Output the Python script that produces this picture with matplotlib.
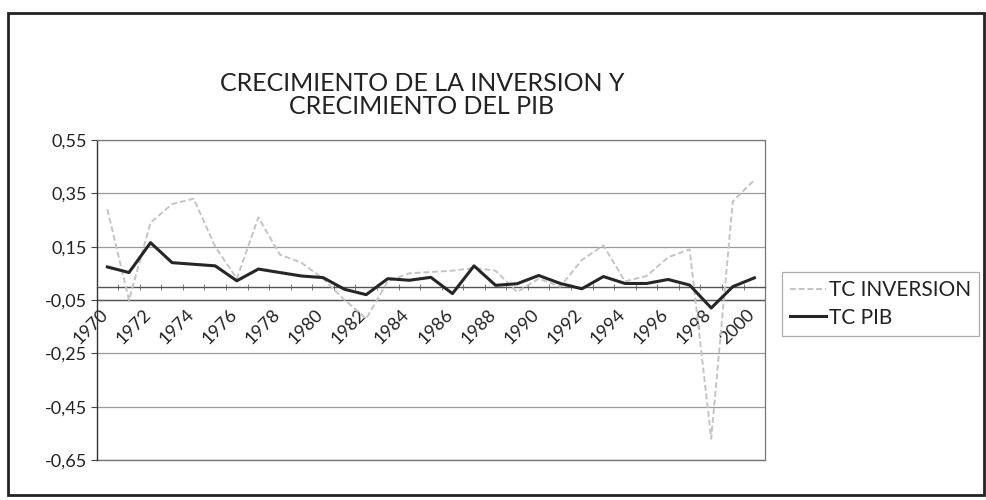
import matplotlib
matplotlib.use('Agg')
from matplotlib import pyplot as plt
from matplotlib.patches import Rectangle
from matplotlib import transforms

# datos
years = list(range(1970, 2001))
tc_inversion = [0.29, -0.05, 0.24, 0.31, 0.33, 0.15, 0.03, 0.26, 0.12, 0.09,
                0.03, -0.05, -0.12, 0.02, 0.05, 0.055, 0.06, 0.07, 0.06, -0.02,
                0.03, 0.00, 0.10, 0.155, 0.02, 0.04, 0.11, 0.14, -0.57, 0.32, 0.40]
tc_pib = [0.074, 0.053, 0.165, 0.090, 0.084, 0.078, 0.022, 0.066, 0.053, 0.040,
          0.034, -0.010, -0.030, 0.030, 0.024, 0.035, -0.026, 0.078, 0.005, 0.011,
          0.042, 0.012, -0.008, 0.038, 0.012, 0.012, 0.027, 0.006, -0.080, 0.000, 0.033]
y_ticks = [0.55, 0.35, 0.15, -0.05, -0.25, -0.45, -0.65]
title = "CRECIMIENTO DE LA INVERSION Y\nCRECIMIENTO DEL PIB"

plt.rcParams['font.family'] = ['Lato', 'DejaVu Sans']

fig = plt.figure(figsize=(9.86, 5.0), dpi=100)
ax = fig.add_axes([0.098, 0.08, 0.678, 0.64])

x = list(range(len(years)))
line_inv, = ax.plot(x, tc_inversion, color='#c4c4c4', lw=1.4, ls=(0, (3, 1.5)), zorder=3)
line_pib, = ax.plot(x, tc_pib, color='#262626', lw=2.2, zorder=4)

# eje y
ax.set_ylim(-0.65, 0.55)
ax.set_yticks(y_ticks)
ax.set_yticklabels([('%.2f' % v).replace('.', ',') for v in y_ticks], fontsize=13, color='#222')
ax.yaxis.grid(True, color='#9a9a9a', lw=0.9)
ax.axhline(-0.05, color='#555', lw=1.0, zorder=2)
ax.tick_params(axis='y', length=4, width=0.8, color='#444', pad=3)

# eje x cruzando en 0
ax.set_xlim(-0.5, len(years) - 0.5)
ax.spines['bottom'].set_position(('data', 0))
ax.spines['bottom'].set_color('#555')
ax.spines['bottom'].set_linewidth(1.0)
ax.set_xticks(x[::2])
ax.set_xticklabels([str(y) for y in years[::2]], rotation=45, ha='right', va='top',
                   rotation_mode='anchor', fontsize=13, color='#222')
ax.set_xticks([i - 0.5 for i in range(len(years) + 1)], minor=True)
ax.tick_params(axis='x', which='major', length=0, pad=6)
ax.tick_params(axis='x', which='minor', length=4, direction='inout', color='#666')
offset = transforms.ScaledTranslation(-0.08, -0.11, fig.dpi_scale_trans)
for lbl in ax.get_xticklabels():
    lbl.set_transform(lbl.get_transform() + offset)

for s in ['top', 'right']:
    ax.spines[s].set_color('#777')
    ax.spines[s].set_linewidth(0.9)
ax.spines['left'].set_color('#333')
ax.spines['left'].set_linewidth(1.0)
# borde inferior del area de trazado
ax.axhline(-0.65, color='#777', lw=1.0, clip_on=False)

fig.text(0.428, 0.81, title, ha='center', va='center', fontsize=18,
         color='#222', linespacing=1.0)

leg = fig.legend([line_inv, line_pib], ['TC INVERSION', 'TC PIB'],
                 loc='upper left', bbox_to_anchor=(0.793, 0.456), fontsize=15,
                 frameon=True, fancybox=False, edgecolor='#999', handlelength=1.7,
                 handletextpad=0.15, borderpad=0.4, labelspacing=0.35,
                 borderaxespad=0)
leg.get_frame().set_linewidth(0.9)
for t in leg.get_texts():
    t.set_color('#222')

# marco exterior del grafico
fig.patches.append(Rectangle((0.008, 0.01), 0.99, 0.964, transform=fig.transFigure,
                             fill=False, edgecolor='#222', lw=2.0))

fig.savefig('out.png', dpi=100)
